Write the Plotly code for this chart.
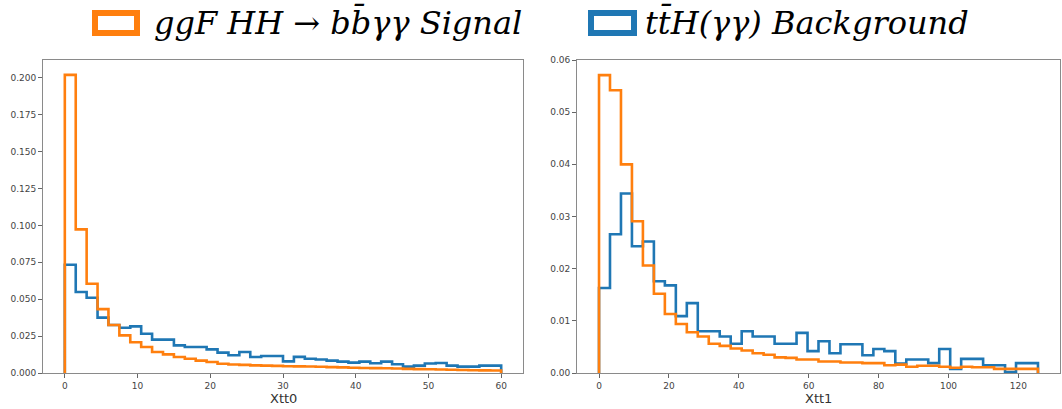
import numpy as np
import plotly.graph_objects as go

W, H = 1062, 409

# ---------------- data (density-normalised histograms, 40 bins each) ----------------
N_BINS = 40
XTT0_RANGE = (0.0, 60.0)
XTT1_RANGE = (0.0, 125.6)

xtt0_signal = [0.2020, 0.0973, 0.0605, 0.0433, 0.0325, 0.0255, 0.0208, 0.0176, 0.0142, 0.0126,
               0.0108, 0.0097, 0.0084, 0.0075, 0.0063, 0.0058, 0.0055, 0.0052, 0.0050, 0.0048,
               0.0046, 0.0045, 0.0044, 0.0042, 0.0040, 0.0038, 0.0036, 0.0034, 0.0033, 0.0032,
               0.0030, 0.0028, 0.0026, 0.0025, 0.0024, 0.0022, 0.0020, 0.0019, 0.0018, 0.0017]
xtt0_background = [0.0734, 0.0549, 0.0510, 0.0375, 0.0325, 0.0307, 0.0316, 0.0266, 0.0226, 0.0226,
                   0.0187, 0.0176, 0.0176, 0.0160, 0.0138, 0.0120, 0.0142, 0.0108, 0.0115, 0.0115,
                   0.0079, 0.0109, 0.0097, 0.0091, 0.0084, 0.0077, 0.0070, 0.0077, 0.0066, 0.0077,
                   0.0059, 0.0043, 0.0050, 0.0064, 0.0068, 0.0050, 0.0043, 0.0043, 0.0050, 0.0050]

xtt1_signal = [0.0571, 0.0542, 0.0400, 0.0291, 0.0206, 0.0152, 0.0113, 0.0094, 0.0078, 0.0070,
               0.0056, 0.0052, 0.0047, 0.0043, 0.0038, 0.0035, 0.0030, 0.0029, 0.0026, 0.0026,
               0.0022, 0.0022, 0.0020, 0.0020, 0.0019, 0.0019, 0.0015, 0.0016, 0.0012, 0.0014,
               0.0014, 0.0012, 0.0010, 0.0012, 0.0011, 0.0011, 0.0008, 0.0008, 0.0008, 0.0008]
xtt1_background = [0.0163, 0.0266, 0.0344, 0.0243, 0.0252, 0.0176, 0.0168, 0.0109, 0.0134, 0.0080,
                   0.0080, 0.0070, 0.0056, 0.0080, 0.0070, 0.0070, 0.0056, 0.0056, 0.0077, 0.0042,
                   0.0061, 0.0038, 0.0055, 0.0055, 0.0034, 0.0046, 0.0042, 0.0018, 0.0026, 0.0026,
                   0.0019, 0.0046, 0.0008, 0.0027, 0.0027, 0.0015, 0.0015, 0.0002, 0.0019, 0.0019]

xtt0_ticks = [0, 10, 20, 30, 40, 50, 60]
xtt1_ticks = [0, 20, 40, 60, 80, 100, 120]
y0_ticks = [0.0, 0.025, 0.05, 0.075, 0.1, 0.125, 0.15, 0.175, 0.2]
y1_ticks = [0.0, 0.01, 0.02, 0.03, 0.04, 0.05, 0.06]

x_titles = ["Xtt0", "Xtt1"]
signal_label = "ggF HH \u2192 bb\u0304\u03b3\u03b3 Signal"
background_label = "tt\u0304H(\u03b3\u03b3) Background"

ORANGE = "#ff7f0e"
BLUE = "#1f77b4"


def step_outline(values, lo, hi):
    edges = np.linspace(lo, hi, len(values) + 1)
    xs = [edges[0]] + list(edges[:-1]) + [edges[-1], edges[-1]]
    ys = [0.0] + list(values) + [values[-1], 0.0]
    return xs, ys


fig = go.Figure()

for vals, rng, color, xa, ya, name in [
    (xtt0_background, XTT0_RANGE, BLUE, "x", "y", background_label),
    (xtt0_signal, XTT0_RANGE, ORANGE, "x", "y", signal_label),
    (xtt1_background, XTT1_RANGE, BLUE, "x2", "y2", background_label),
    (xtt1_signal, XTT1_RANGE, ORANGE, "x2", "y2", signal_label),
]:
    xs, ys = step_outline(vals, *rng)
    fig.add_trace(go.Scatter(x=xs, y=ys, mode="lines", line=dict(color=color, width=2.6, shape="hv"),
                             xaxis=xa, yaxis=ya, name=name, showlegend=False))

ydom = [(H - 373) / H, (H - 60) / H]
xdom1 = [43 / W, 523 / W]
xdom2 = [577 / W, 1060 / W]

common_axis = dict(showline=True, mirror=True, linecolor="#8a8a8a", linewidth=1.4,
                   showgrid=False, zeroline=False, ticks="outside", ticklen=3.5, tickwidth=1,
                   tickcolor="#666", automargin=False,
                   tickfont=dict(family="DejaVu Sans", size=9, color="#444"))

fig.update_layout(
    width=W, height=H,
    margin=dict(l=0, r=0, t=0, b=0, autoexpand=False),
    paper_bgcolor="white", plot_bgcolor="white",
    showlegend=False,
    xaxis=dict(domain=xdom1, range=[-3, 63], tickvals=xtt0_ticks, anchor="y", **common_axis),
    yaxis=dict(domain=ydom, range=[0, 0.2121], tickvals=y0_ticks, tickformat=".3f",
               anchor="x", **common_axis),
    xaxis2=dict(domain=xdom2, range=[-6.3, 131.9], tickvals=xtt1_ticks, anchor="y2", **common_axis),
    yaxis2=dict(domain=ydom, range=[0, 0.06], tickvals=y1_ticks, tickformat=".2f",
                anchor="x2", **common_axis),
)


def px_x(v):
    return v / W


def px_y(v):
    return 1 - v / H


# ---------------- x-axis titles ----------------
for dom, text in [(xdom1, x_titles[0]), (xdom2, x_titles[1])]:
    fig.add_annotation(xref="paper", yref="paper", x=(dom[0] + dom[1]) / 2, y=px_y(398.5),
                       xanchor="center", yanchor="middle", showarrow=False, text=text,
                       borderpad=0,
                       font=dict(family="DejaVu Sans", size=13, color="#333"))

# ---------------- legend drawn at the top ----------------
for (x0, x1), color in [((95, 137), ORANGE), ((591, 634), BLUE)]:
    fig.add_shape(type="rect", xref="paper", yref="paper",
                  x0=px_x(x0), x1=px_x(x1), y0=px_y(33), y1=px_y(13),
                  line=dict(color=color, width=6), fillcolor="white")

for x, text in [(152, signal_label), (643, background_label)]:
    fig.add_annotation(xref="paper", yref="paper", x=px_x(x), y=px_y(22),
                       xanchor="left", yanchor="middle", showarrow=False, text=text,
                       font=dict(family="DejaVu Serif", size=32, color="black", style="italic"))

fig.write_html("out.html",
               config={"displayModeBar": False, "staticPlot": True},
               post_script="document.body.style.margin='0';document.body.style.overflow='hidden';")
